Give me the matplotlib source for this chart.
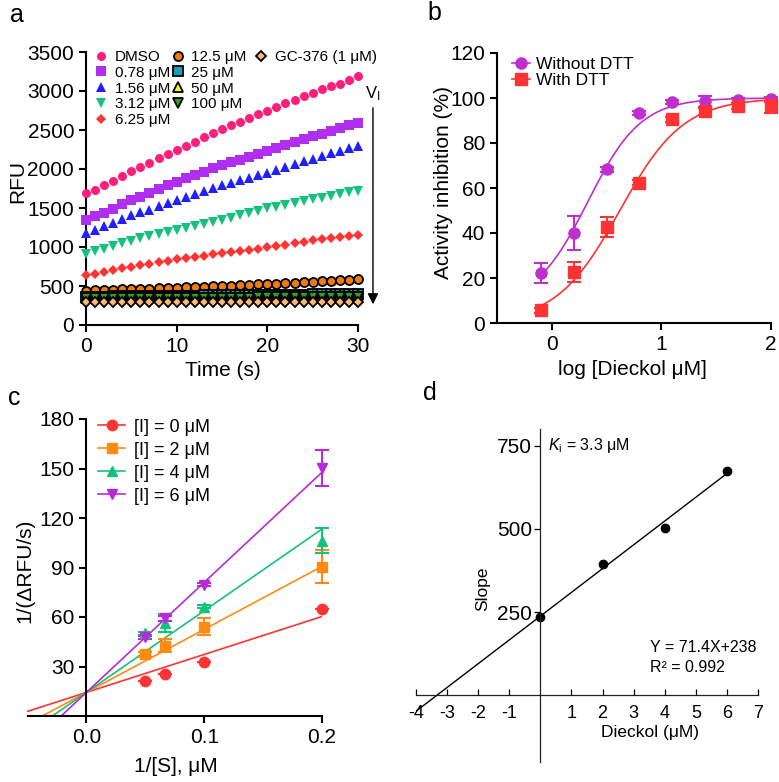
import numpy as np
import matplotlib
matplotlib.use("Agg")
import matplotlib.pyplot as plt
from matplotlib.lines import Line2D

plt.rcParams["font.family"] = ["Liberation Sans", "DejaVu Sans"]
plt.rcParams["mathtext.fontset"] = "custom"
plt.rcParams["mathtext.rm"] = "Liberation Sans"
plt.rcParams["mathtext.it"] = "Liberation Sans:italic"
plt.rcParams["axes.unicode_minus"] = False

# ---- panel a: progress curves ----
time_s = list(range(31))
a_labels = ["DMSO", "0.78 μM", "1.56 μM", "3.12 μM", "6.25 μM",
            "12.5 μM", "25 μM", "50 μM", "100 μM", "GC-376 (1 μM)"]
rfu_dmso = [1686, 1730, 1800, 1850, 1910, 1970, 2030, 2080, 2140, 2190, 2249, 2290, 2350, 2410, 2460, 2518,
            2560, 2600, 2650, 2710, 2750, 2790, 2840, 2890, 2930, 2975, 3020, 3070, 3090, 3140, 3188]
rfu_078 = [1344, 1395, 1440, 1490, 1545, 1600, 1645, 1690, 1740, 1790, 1835, 1880, 1925, 1965, 2010, 2050,
           2085, 2120, 2160, 2195, 2232, 2270, 2305, 2345, 2380, 2420, 2455, 2490, 2525, 2560, 2591]
rfu_156 = [1174, 1220, 1265, 1310, 1360, 1408, 1445, 1480, 1525, 1565, 1600, 1640, 1680, 1720, 1755, 1792,
           1825, 1855, 1890, 1920, 1950, 1990, 2025, 2060, 2100, 2134, 2170, 2200, 2235, 2265, 2296]
rfu_312 = [909, 945, 980, 1015, 1050, 1080, 1110, 1140, 1165, 1190, 1216, 1245, 1270, 1295, 1320, 1344,
           1375, 1405, 1435, 1465, 1494, 1515, 1540, 1565, 1585, 1609, 1630, 1655, 1675, 1700, 1720]
rfu_625 = [636, 660, 685, 705, 725, 747, 765, 785, 805, 820, 841, 855, 870, 890, 905, 918,
           935, 950, 965, 980, 994, 1015, 1030, 1050, 1070, 1088, 1100, 1115, 1130, 1145, 1152]
rfu_125 = [440, 445, 448, 452, 456, 460, 463, 467, 471, 475, 478, 482, 486, 490, 495, 500,
           505, 510, 515, 520, 525, 530, 535, 540, 546, 552, 558, 565, 572, 578, 585]
rfu_25 = [362, 363, 365, 366, 367, 369, 370, 371, 372, 374, 375, 376, 378, 379, 380, 381,
          382, 384, 385, 386, 387, 388, 389, 390, 391, 392, 393, 394, 395, 396, 397]
rfu_50 = [352, 353, 354, 355, 356, 357, 358, 359, 360, 361, 362, 363, 364, 365, 366, 367,
          368, 369, 370, 371, 372, 373, 374, 375, 376, 377, 378, 379, 380, 381, 382]
rfu_100 = [340, 341, 341, 342, 343, 343, 344, 345, 345, 346, 347, 347, 348, 349, 349, 350,
           351, 351, 352, 353, 353, 354, 355, 355, 356, 357, 357, 358, 359, 359, 360]
rfu_gc = [292, 291, 292, 290, 291, 292, 291, 290, 292, 291, 290, 291, 292, 291, 290, 291,
          292, 290, 291, 292, 291, 290, 291, 292, 291, 290, 292, 291, 290, 291, 292]
a_series = [rfu_dmso, rfu_078, rfu_156, rfu_312, rfu_625, rfu_125, rfu_25, rfu_50, rfu_100, rfu_gc]
a_colors = ["#ff1f7a", "#b02ef0", "#1f1fff", "#14c27c", "#ff3333",
            "#f47a10", "#1b9ac2", "#ffff00", "#2e9e2e", "#ffb878"]
a_markers = ["o", "s", "^", "v", "D", "o", "s", "^", "v", "D"]

# ---- panel b: dose response ----
log_dieckol = [-0.1, 0.2, 0.5, 0.8, 1.1, 1.4, 1.7, 2.0]
inh_no_dtt = [22.2, 40.1, 68.3, 93.3, 98.2, 98.5, 99.0, 99.4]
err_no_dtt = [4.5, 7.5, 1.0, 1.0, 1.0, 2.5, 1.0, 1.0]
inh_dtt = [5.6, 22.7, 42.7, 62.4, 90.5, 94.1, 96.4, 96.7]
err_dtt = [1.0, 4.3, 4.6, 1.0, 1.0, 1.5, 1.5, 3.5]
fit_no_dtt = (8.0, 100.0, 0.33, 1.8)    # bottom, top, logIC50, hill
fit_dtt = (0.0, 100.0, 0.62, 1.5)

# ---- panel c: Lineweaver-Burk ----
inv_s = [0.05, 0.0667, 0.1, 0.2]
c_labels = ["[I] = 0 μM", "[I] = 2 μM", "[I] = 4 μM", "[I] = 6 μM"]
inv_v = [[21.4, 25.5, 33.0, 64.7],
         [37.4, 42.7, 54.2, 90.6],
         [50.2, 56.2, 66.3, 106.2],
         [47.7, 59.3, 79.5, 150.3]]
inv_v_err = [[0, 0, 0, 0],
             [1.5, 4.2, 5.0, 10.0],
             [1.0, 5.5, 1.0, 7.7],
             [1.0, 1.5, 1.0, 10.8]]
lb_intercept = 14.3
lb_slopes = [230.0, 382.0, 495.0, 667.0]
c_colors = ["#ff3333", "#ff8a14", "#14c27c", "#b62bd6"]
c_markers = ["o", "s", "^", "v"]

# ---- panel d: secondary plot ----
dieckol_um = [0, 2, 4, 6]
slope_vals = [235, 395, 502, 675]
d_slope, d_intercept = 71.4, 238

W, H = 779, 782


def box(left, top, right, bottom):
    return [left / W, 1 - bottom / H, (right - left) / W, (bottom - top) / H]


def style_axes(ax, lw=1.5):
    ax.spines["top"].set_visible(False)
    ax.spines["right"].set_visible(False)
    for s in ("left", "bottom"):
        ax.spines[s].set_linewidth(lw)
    ax.tick_params(width=lw, length=5, labelsize=15, direction="out")


def place_labels(ax, xpos, ypos):
    ax.xaxis.set_label_coords(*xpos)
    ax.yaxis.set_label_coords(*ypos)
    ax.xaxis.label.set_va("center")
    ax.yaxis.label.set_va("center")


def logistic(x, p):
    bottom, top, ic50, hill = p
    return bottom + (top - bottom) / (1 + 10 ** ((ic50 - x) * hill))


fig = plt.figure(figsize=(7.79, 7.82), dpi=100)

# panel a
ax = fig.add_axes(box(86, 52, 358, 325))
style_axes(ax)
for i in range(len(a_series)):
    edge = "k" if i >= 5 else a_colors[i]
    ax.plot(time_s, a_series[i], ls="none", marker=a_markers[i], ms=6.5 if a_markers[i] != "D" else 5.5,
            mfc=a_colors[i], mec=edge, mew=1.3 if i >= 5 else 0, clip_on=False, label=a_labels[i], zorder=3)
ax.set_xlim(0, 30)
ax.set_ylim(0, 3500)
ax.set_xticks([0, 10, 20, 30])
ax.set_yticks(range(0, 3501, 500))
ax.set_xlabel("Time (s)", fontsize=15)
ax.set_ylabel("RFU", fontsize=15)
place_labels(ax, (0.504, -0.165), (-0.25, 0.524))
h, l = ax.get_legend_handles_labels()
leg1 = ax.legend(h[:9], l[:9], ncol=2, loc="upper left", bbox_to_anchor=(0.01, 1.03), frameon=False,
                 fontsize=11, handlelength=0.8, handletextpad=0.5, columnspacing=0.1, labelspacing=0.12,
                 borderaxespad=0)
ax.add_artist(leg1)
ax.legend(h[9:], l[9:], loc="upper left", bbox_to_anchor=(0.6, 1.03), frameon=False, fontsize=11,
          handlelength=0.8, handletextpad=0.5, borderaxespad=0)
ax.annotate("", xy=(31.65, 230), xytext=(31.65, 2820), annotation_clip=False,
            arrowprops=dict(arrowstyle="-|>", color="k", lw=1, mutation_scale=16))
ax.text(31.6, 2960, "V$_\\mathrm{I}$", fontsize=12, ha="center", va="center", clip_on=False)

# panel b
ax = fig.add_axes(box(497, 53, 771, 323))
style_axes(ax)
xs = np.linspace(-0.1, 2.0, 200)
ax.plot(xs, logistic(xs, fit_no_dtt), color="#bf2fd0", lw=1.2)
ax.plot(xs, logistic(xs, fit_dtt), color="#ff3333", lw=1.2)
ax.errorbar(log_dieckol, inh_no_dtt, yerr=err_no_dtt, fmt="o", color="#bf2fd0", ms=8, capsize=5,
            elinewidth=1.5, capthick=1.5, clip_on=False, label="Without DTT", zorder=3)
ax.errorbar(log_dieckol, inh_dtt, yerr=err_dtt, fmt="s", color="#ff3333", ms=8, capsize=5,
            elinewidth=1.5, capthick=1.5, clip_on=False, label="With DTT", zorder=3)
ax.set_xlim(-0.5, 2)
ax.set_ylim(0, 120)
ax.set_xticks([0, 1, 2])
ax.set_yticks(range(0, 121, 20))
ax.set_xlabel("log [Dieckol μM]", fontsize=15)
ax.set_ylabel("Activity inhibition (%)", fontsize=15)
place_labels(ax, (0.496, -0.174), (-0.197, 0.52))
hb = [Line2D([], [], color="#bf2fd0", marker="o", ms=8, lw=1.2),
      Line2D([], [], color="#ff3333", marker="s", ms=8, lw=1.2)]
ax.legend(hb, ["Without DTT", "With DTT"], loc="upper left", bbox_to_anchor=(0.03, 1.01), frameon=False,
          fontsize=12.5, handlelength=1.0, handletextpad=0.4, labelspacing=0.05, borderaxespad=0)

# panel c
ax = fig.add_axes(box(27.5, 419, 322, 716))
style_axes(ax)
ax.spines["left"].set_position(("data", 0))
for i in range(4):
    x0 = max(-0.05, -lb_intercept / lb_slopes[i])
    xl = np.array([x0, 0.2])
    ax.plot(xl, lb_intercept + lb_slopes[i] * xl, color=c_colors[i], lw=1.2)
    ax.errorbar(inv_s, inv_v[i], yerr=inv_v_err[i], fmt=c_markers[i], color=c_colors[i], ms=7.5,
                capsize=5, elinewidth=1.5, capthick=1.5, clip_on=False, zorder=3)
ax.set_xlim(-0.05, 0.2)
ax.set_ylim(0, 180)
ax.set_xticks([0, 0.1, 0.2])
ax.set_xticklabels(["0.0", "0.1", "0.2"])
ax.set_yticks(range(30, 181, 30))
ax.set_xlabel("1/[S], μM", fontsize=15)
ax.set_ylabel("1/(ΔRFU/s)", fontsize=15)
place_labels(ax, (0.504, -0.17), (-0.01, 0.49))
hc = [Line2D([], [], color=c_colors[i], marker=c_markers[i], ms=7.5, lw=1.2) for i in range(4)]
ax.legend(hc, c_labels, loc="upper left", bbox_to_anchor=(0.215, 1.025), frameon=False, fontsize=13,
          handlelength=1.5, handletextpad=0.5, labelspacing=0.33, borderaxespad=0)

# panel d
ax = fig.add_axes(box(416, 429, 758, 762))
ax.spines["top"].set_visible(False)
ax.spines["right"].set_visible(False)
ax.spines["left"].set_position(("data", 0))
ax.spines["bottom"].set_position(("data", 0))
for s in ("left", "bottom"):
    ax.spines[s].set_linewidth(0.9)
    ax.spines[s].set_color("#222222")
xd = np.array([-4, 6])
ax.plot(xd, d_slope * xd + d_intercept, color="k", lw=1)
ax.plot(dieckol_um, slope_vals, "o", color="k", ms=6, clip_on=False)
ax.set_xlim(-4, 7)
ax.set_ylim(-200, 800)
ax.set_xticks([-4, -3, -2, -1, 1, 2, 3, 4, 5, 6, 7])
ax.set_yticks([250, 500, 750])
ax.tick_params(axis="x", direction="in", length=4, width=0.9, labelsize=13, pad=7)
ax.tick_params(axis="y", direction="out", length=4, width=0.9, labelsize=15, pad=2)
ax.set_xlabel("Dieckol (μM)", fontsize=12.5)
ax.set_ylabel("Slope", fontsize=12.5)
place_labels(ax, (0.684, 0.09), (0.196, 0.52))
ax.text(0.24, 750, "$K_\\mathrm{i}$ = 3.3 μM", fontsize=11.5, va="center", ha="left")
ax.text(3.52, 145, "Y = 71.4X+238", fontsize=11.5, va="center", ha="left")
ax.text(3.52, 85, "R² = 0.992", fontsize=11.5, va="center", ha="left")

for letter, x, y in [("a", 10, 15), ("b", 427, 13), ("c", 8, 398), ("d", 423, 393)]:
    fig.text(x / W, 1 - y / H, letter, fontsize=18, ha="left", va="center")

fig.savefig("out.png", dpi=100)
